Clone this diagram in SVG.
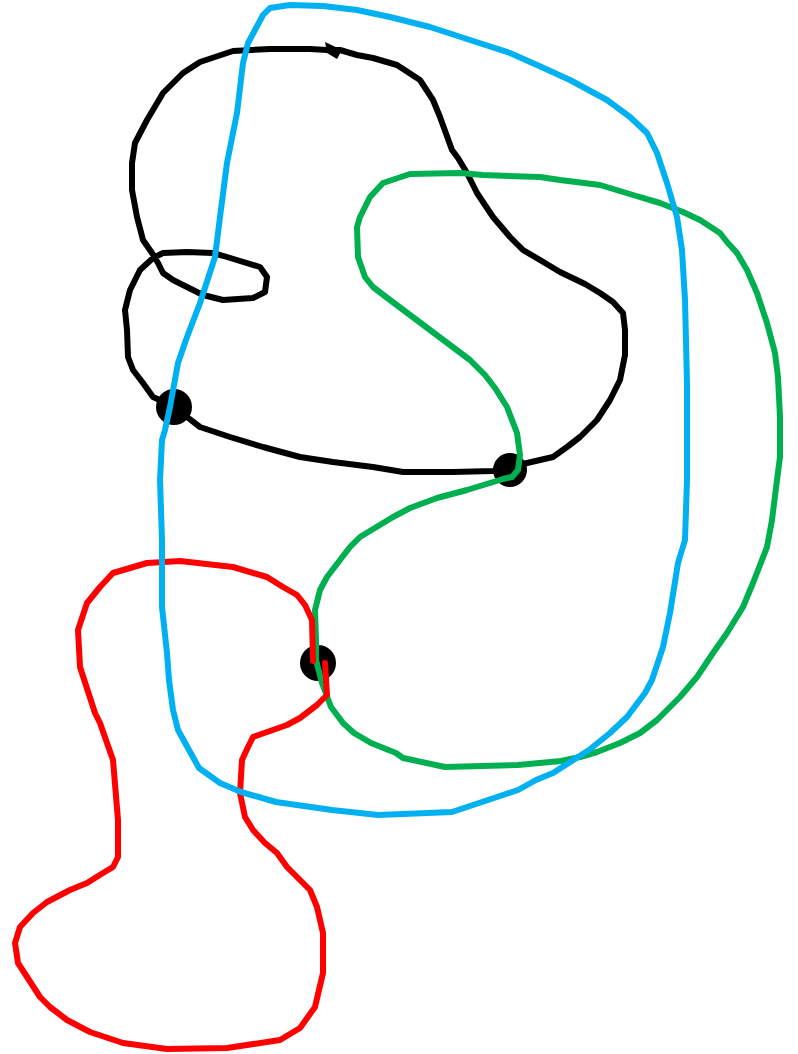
<svg xmlns="http://www.w3.org/2000/svg" width="798" height="1054" viewBox="0 0 798 1054">
<style>
.c{fill:none;stroke-width:6;stroke-linejoin:round;stroke-linecap:round}
.k{stroke:#000}
.b{stroke:#00B0F0}
.g{stroke:#00B050}
.r{stroke:#FF0000}
.dot{fill:#000}
</style>
<rect width="798" height="1054" fill="#fff"/>
<g id="connectors">
<path id="black-loop" class="c k" d="M173,406 L187,417 200,427 230,437 263,447 300,457 333,462 373,467 403,472 453,472 493,471 510,468 527,463 553,457 567,447 580,437 597,420 610,400 620,380 625,355 625,330 623,313 613,302 600,293 585,284 560,272 540,260 523,250 510,237 493,217 477,193 467,173 458,158 452,150 440,117 433,100 420,80 397,65 373,58 357,55 340,50 327,50 310,49 270,49 233,51 200,62 183,73 163,93 147,120 135,143 132,163 132,190 137,217 143,240 152,253 158,263 163,273 173,280 187,287 203,295 223,300 253,298 265,292 267,277 260,267 227,257 213,253 187,252 163,253 153,258 140,270 130,290 125,310 127,330 128,357 133,370 143,383 153,397 173,406 Z"/>
<polygon id="arrowhead" points="325,42 342,50 337,59 327,53" fill="#000"/>
</g>
<g id="node-1"><circle class="dot" cx="174" cy="407" r="18"/></g>
<g id="node-2"><circle class="dot" cx="510" cy="470" r="17"/></g>
<g id="node-3"><circle class="dot" cx="318" cy="663" r="18"/></g>
<g id="connectors-2">
<path id="green-loop" class="c g" d="M518,470 L520,455 517,433 507,407 495,388 485,375 470,360 450,345 430,330 410,315 390,300 373,287 365,277 358,257 357,227 360,217 370,197 383,183 410,174 460,173 483,175 540,177 560,180 600,185 633,195 660,203 683,212 700,220 720,233 727,242 737,253 747,270 757,293 767,323 775,353 778,377 780,417 780,457 777,480 772,520 767,547 753,583 743,607 727,633 713,653 697,677 680,697 657,720 640,733 620,743 597,752 580,757 561,761 518,765 445,767 403,758 396,753 371,743 354,733 343,723 331,707 322,683 316,660 316,640 315,610 320,590 327,577 340,560 350,547 360,537 393,517 410,508 437,498 467,490 503,479 512,477 518,470"/>
<path id="red-loop" class="c r" stroke-linecap="butt" d="M313,661 L312,620 305,605 297,595 283,587 267,577 233,567 180,561 147,563 113,573 100,587 87,603 78,630 80,667 95,713 100,723 113,760 118,820 118,857 113,867 103,873 87,883 70,890 47,902 33,913 20,927 15,943 18,963 40,997 50,1007 67,1020 90,1032 123,1043 167,1049 227,1048 280,1040 300,1028 315,1007 323,973 323,933 317,907 310,890 297,877 287,867 277,853 265,843 253,830 245,817 240,793 242,760 248,747 253,737 287,725 300,718 317,705 327,695 325,663"/>
<path id="blue-loop" class="c b" d="M263,15 L270,8 290,5 323,6 357,10 390,17 430,27 470,40 510,53 537,65 570,80 607,100 630,117 647,133 657,153 667,183 677,217 682,250 685,300 687,383 687,480 685,540 678,563 670,613 663,647 652,680 645,693 627,717 610,733 589,750 553,773 536,780 518,790 494,798 452,812 378,815 332,810 276,802 241,792 220,783 199,768 189,750 178,730 173,710 169,680 167,653 162,607 162,540 160,480 162,440 165,430 170,407 178,363 187,337 200,303 215,257 220,217 227,163 237,113 243,63 248,43 255,30 263,15 Z"/>
</g>
</svg>
